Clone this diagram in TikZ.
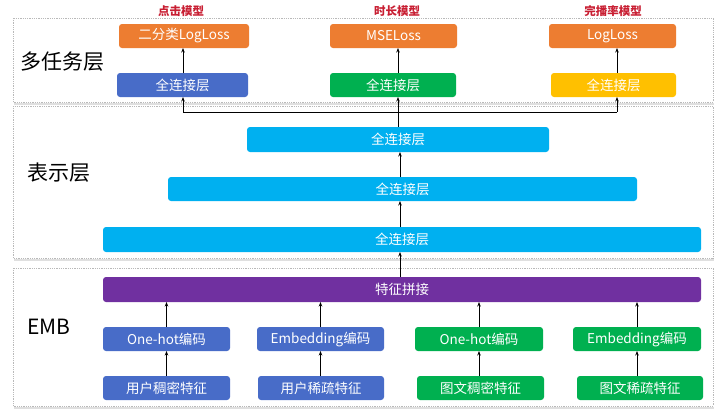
\documentclass[tikz,border=0pt]{standalone}
\usepackage{fontspec}
\setmainfont{Noto Sans CJK SC}
\usetikzlibrary{arrows.meta}
\definecolor{cOrange}{RGB}{237,125,49}
\definecolor{cBlue}{RGB}{72,108,200}
\definecolor{cGreen}{RGB}{0,176,80}
\definecolor{cYellow}{RGB}{255,192,0}
\definecolor{cSky}{RGB}{0,176,240}
\definecolor{cPurple}{RGB}{112,48,160}
\definecolor{cRed}{RGB}{200,30,50}
\tikzset{
  box/.style={rectangle, rounded corners=3pt, inner sep=0pt, outer sep=0pt,
    text=white, font=\fontsize{13.5}{15}\selectfont, draw=none},
  panel/.style={draw=gray!55, densely dotted, line width=0.8pt, fill=white},
  arr/.style={-{Stealth[length=4.5pt,width=3.5pt]}, line width=0.9pt, black},
  layer/.style={anchor=west, font=\fontsize{21}{24}\selectfont, inner sep=0pt},
  model/.style={font=\fontsize{11.5}{13}\selectfont\bfseries, text=cRed, inner sep=0pt},
}
\begin{document}
\begin{tikzpicture}[x=1pt,y=-1pt]
\useasboundingbox (0,0) rectangle (720,410);
% panels
\draw[gray!25, line width=1.2pt] (14,104) -- (714,104);
\draw[gray!25, line width=1.2pt] (14,260) -- (714,260);
\draw[gray!25, line width=1.2pt] (14,408) -- (714,408);
\draw[panel] (13,18) rectangle (713,102);
\draw[panel] (13,106) rectangle (713,258);
\draw[panel] (13,268) rectangle (713,406);
% layer labels
\node[layer] (L1) at (20,62) {多任务层};
\node[layer] (L2) at (27,173) {表示层};
\node[layer] (L3) at (27,327) {EMB};
% model labels
\node[model] (m1) at (181,11) {点击模型};
\node[model] (m2) at (397,11) {时长模型};
\node[model] (m3) at (613,11) {完播率模型};
% task losses
\node[box, fill=cOrange, minimum width=130pt, minimum height=24pt] (o1) at (184,36) {二分类LogLoss};
\node[box, fill=cOrange, minimum width=127pt, minimum height=24pt] (o2) at (393.5,36) {MSELoss};
\node[box, fill=cOrange, minimum width=127pt, minimum height=24pt] (o3) at (612.5,36) {LogLoss};
% task fc
\node[box, fill=cBlue, minimum width=131pt, minimum height=24pt] (t1) at (182.5,85) {全连接层};
\node[box, fill=cGreen, minimum width=126pt, minimum height=24pt] (t2) at (393,85) {全连接层};
\node[box, fill=cYellow, minimum width=125pt, minimum height=24pt] (t3) at (613.5,85) {全连接层};
% representation
\node[box, fill=cSky, minimum width=302pt, minimum height=25pt] (r1) at (398,139.5) {全连接层};
\node[box, fill=cSky, minimum width=469pt, minimum height=24pt] (r2) at (402.5,189) {全连接层};
\node[box, fill=cSky, minimum width=598pt, minimum height=25pt] (r3) at (402,239.5) {全连接层};
% EMB
\node[box, fill=cPurple, minimum width=598pt, minimum height=25pt] (p) at (402,289.5) {特征拼接};
\node[box, fill=cBlue, minimum width=127pt, minimum height=24pt] (e1) at (166.5,339) {One-hot编码};
\node[box, fill=cBlue, minimum width=127pt, minimum height=24pt] (e2) at (320.5,339) {Embedding编码};
\node[box, fill=cGreen, minimum width=128pt, minimum height=24pt] (e3) at (479,339) {One-hot编码};
\node[box, fill=cGreen, minimum width=128pt, minimum height=24pt] (e4) at (637,339) {Embedding编码};
\node[box, fill=cBlue, minimum width=127pt, minimum height=24pt] (f1) at (166.5,388) {用户稠密特征};
\node[box, fill=cBlue, minimum width=126pt, minimum height=24pt] (f2) at (321,388) {用户稀疏特征};
\node[box, fill=cGreen, minimum width=127pt, minimum height=24pt] (f3) at (480.5,388) {图文稠密特征};
\node[box, fill=cGreen, minimum width=126pt, minimum height=24pt] (f4) at (640,388) {图文稀疏特征};
% connectors
\coordinate (j) at (398,112);
\coordinate (jl) at (183,112);
\coordinate (jr) at (617,112);
\coordinate (ax) at (400,0);
\draw[line width=0.9pt] (r1.north) -- (j);
\draw[line width=0.9pt] (jl) -- (jr);
\draw[arr] (jl) -- (jl|-t1.south);
\draw[arr] (j) -- (j|-t2.south);
\draw[arr] (jr) -- (jr|-t3.south);
\draw[arr] (jl|-t1.north) -- (jl|-o1.south);
\draw[arr] (j|-t2.north) -- (j|-o2.south);
\draw[arr] (jr|-t3.north) -- (jr|-o3.south);
\draw[arr] (ax|-r2.north) -- (ax|-r1.south);
\draw[arr] (ax|-r3.north) -- (ax|-r2.south);
\draw[arr] (ax|-p.north) -- (ax|-r3.south);
\foreach \e/\f in {e1/f1,e2/f2,e3/f3,e4/f4}{
  \draw[arr] (\e.south|-\f.north) -- (\e.south);
  \draw[arr] (\e.north) -- (\e.north|-p.south);
}
\end{tikzpicture}
\end{document}
